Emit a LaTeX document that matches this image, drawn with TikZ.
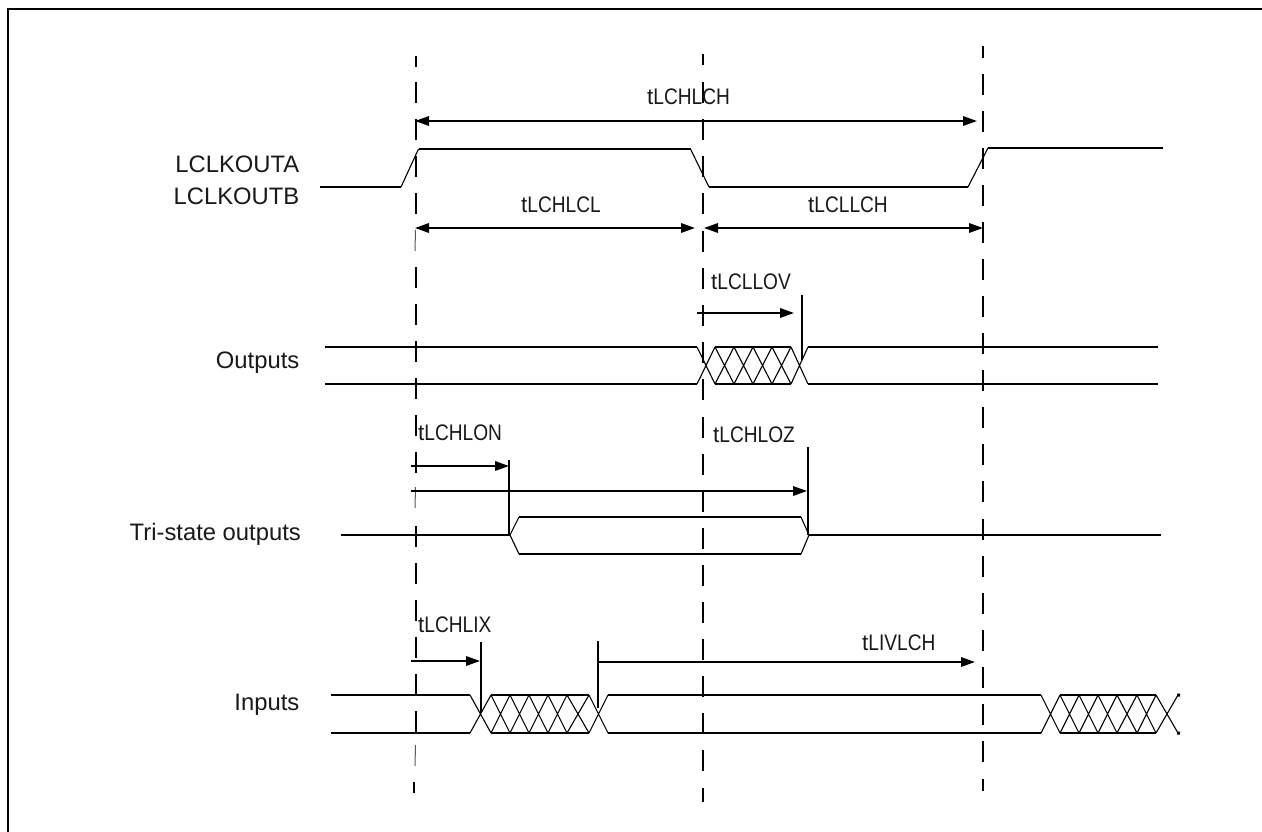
\documentclass[tikz,border=0pt]{standalone}
\usepackage{fontspec}
\usepackage{graphicx}
\setmainfont{Liberation Sans}
\usetikzlibrary{arrows.meta}
\newcommand{\tsym}[1]{t\scalebox{.85}[1]{#1}}
\tikzset{
  frameline/.style={line width=2pt,black,line join=miter},
  sigline/.style={line width=1.9pt,black,line join=miter},
  slantline/.style={line width=1.1pt,black},
  guide/.style={line width=2pt,black},
  fineguide/.style={line width=1pt,black!65},
  tick/.style={line width=1.5pt,black},
  dimline/.style={line width=1.8pt,black},
  dimto/.style={dimline,-{Triangle[length=14pt,width=9.5pt]}},
  dimboth/.style={dimline,{Triangle[length=14pt,width=9.5pt]}-{Triangle[length=14pt,width=9.5pt]}},
  siglabel/.style={anchor=base east,font=\fontsize{23.8pt}{26pt}\selectfont,inner sep=0pt,text=black!90},
  tlabel/.style={anchor=base west,font=\fontsize{22.5pt}{26pt}\selectfont,inner sep=0pt,text=black!90},
}
\begin{document}
\begin{tikzpicture}[x=1pt,y=-1pt]
\useasboundingbox (0,0) rectangle (1262,832);
\fill[white] (0,0) rectangle (1262,832);
% frame
\draw[frameline] (8,832) -- (8,9) -- (1262,9);

% dashed guides
\draw[guide] (416,56) -- (416,67);
\foreach \y in {82,119,156,193,267,304,341,378,415,452,526,563,600,637,674,711}
  \draw[guide] (416,\y) -- (416,\y+21);
\foreach \y in {230,487,745}
  \draw[fineguide] (415.5,\y) -- (415,\y+21);
\draw[guide] (414,782) -- (414,793);
\draw[guide] (703,54) -- (703,65);
\foreach \y in {82,119,156,193,231,268,305,342,379,417,454,491,528,565,602,639,676,713,750}
  \draw[guide] (703,\y) -- (703,\y+21);
\draw[guide] (703,788) -- (703,802);
\draw[guide] (983,46) -- (983,58);
\foreach \y in {74,111,148,185,222,259,296,333,370,407,444,481,519,556,593,630,667,704,741}
  \draw[guide] (983,\y) -- (983,\y+21);
\draw[guide] (983,779) -- (983,791);

% clock
\draw[sigline] (320,187) -- (401,187);
\draw[slantline] (401,187) -- (418.5,149);
\draw[sigline] (418.5,149) -- (690.5,149);
\draw[slantline] (690.5,149) -- (709,187);
\draw[sigline] (709,187) -- (968,187);
\draw[slantline] (968,187) -- (988,148);
\draw[sigline] (988,148) -- (1163,148);

% outputs
\draw[sigline] (325,347) -- (697,347) (325,384) -- (697,384);
\draw[sigline] (715,347) -- (791,347) (715,384) -- (791,384);
\draw[sigline] (808,347) -- (1158,347) (808,384) -- (1158,384);
\foreach \a/\b in {697/715,715/734,734/753,753/772,772/791,791/808}
  \draw[slantline] (\a,347) -- (\b,384) (\a,384) -- (\b,347);
\draw[tick] (802,295) -- (802,360);

% tri-state
\draw[sigline] (341,535) -- (510,535);
\draw[slantline] (510,535) -- (519,517) (510,535) -- (519,554);
\draw[sigline] (519,517) -- (801,517) (519,554) -- (801,554);
\draw[slantline] (801,517) -- (809,535) (801,554) -- (809,535);
\draw[sigline] (809,535) -- (1161,535);
\draw[tick] (509,460) -- (509,535);
\draw[tick] (808,447) -- (808,535);

% inputs
\draw[sigline] (331,695) -- (470,695) (331,733) -- (470,733);
\draw[sigline] (491,695) -- (589,695) (491,733) -- (589,733);
\draw[sigline] (608,695) -- (1041,695) (608,733) -- (1041,733);
\draw[sigline] (1060,695) -- (1156,695) (1060,733) -- (1156,733);
\foreach \a/\b in {470/491,491/510,510/529,529/548,548/567,567/589,589/608,1041/1060,1060/1079,1079/1098,1098/1117,1117/1137,1137/1156,1156/1178}
  \draw[slantline] (\a,695) -- (\b,733) (\a,733) -- (\b,695);
\fill (1177,693.5) rectangle (1180,696.5) (1177,731.5) rectangle (1180,734.5);
\draw[tick] (481,642) -- (481,713);
\draw[tick] (598,641) -- (598,708);

% dimension arrows
\draw[dimboth] (415,121) -- (977,121);
\draw[dimboth] (415,228) -- (695,228);
\draw[dimboth] (704,228) -- (983,228);
\draw[dimto] (697,313) -- (794,313);
\draw[dimto] (411,466) -- (509,466);
\draw[dimto] (411,491) -- (807,491);
\draw[dimto] (411,661) -- (480,661);
\draw[dimto] (598,662) -- (975,662);

% signal labels
\node[siglabel] (outa) at (299.5,172.5) {LCLKOUTA};
\node[siglabel] (outb) at (299.5,204.5) {LCLKOUTB};
\node[siglabel] (outs) at (299.5,368) {Outputs};
\node[siglabel] (tri) at (301,540) {Tri-state outputs};
\node[siglabel] (ins) at (299.5,710) {Inputs};

% timing labels
\node[tlabel] (t1) at (647,105) {\tsym{LCHLCH}};
\node[tlabel] (t2) at (521,212) {\tsym{LCHLCL}};
\node[tlabel] (t3) at (808,212) {\tsym{LCLLCH}};
\node[tlabel] (t4) at (711,289) {\tsym{LCLLOV}};
\node[tlabel] (t5) at (418,440) {\tsym{LCHLON}};
\node[tlabel] (t6) at (713,442.5) {\tsym{LCHLOZ}};
\node[tlabel] (t7) at (418,632.5) {\tsym{LCHLIX}};
\node[tlabel] (t8) at (862,650) {\tsym{LIVLCH}};
\end{tikzpicture}
\end{document}
